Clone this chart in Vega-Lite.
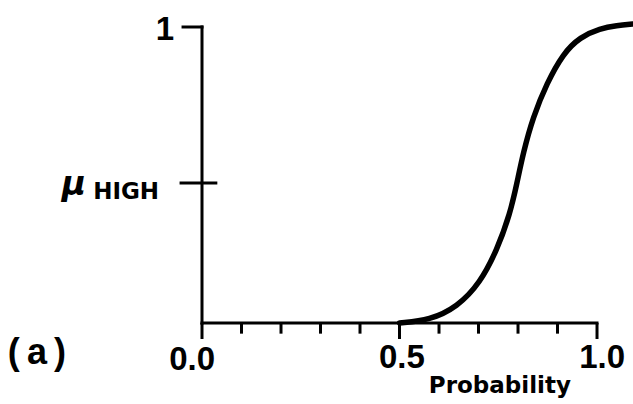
{
  "$schema": "https://vega.github.io/schema/vega-lite/v6.json",
  "width": 431,
  "height": 323,
  "autosize": {"type": "none"},
  "padding": {"left": 202, "top": 0, "right": 0, "bottom": 81},
  "background": "white",
  "config": {"view": {"stroke": null}},
  "datasets": {
    "curve": [
      {"p": 0.5, "mu": 0.0},
      {"p": 0.577, "mu": 0.01},
      {"p": 0.646, "mu": 0.054},
      {"p": 0.704, "mu": 0.135},
      {"p": 0.747, "mu": 0.247},
      {"p": 0.78, "mu": 0.37},
      {"p": 0.797, "mu": 0.47},
      {"p": 0.813, "mu": 0.574},
      {"p": 0.838, "mu": 0.696},
      {"p": 0.873, "mu": 0.81},
      {"p": 0.914, "mu": 0.91},
      {"p": 0.957, "mu": 0.966},
      {"p": 1.008, "mu": 0.995},
      {"p": 1.05, "mu": 1.005},
      {"p": 1.09, "mu": 1.01}
    ],
    "segments": [
      {"x1": 0, "x2": 1, "y1": 0, "y2": 0},
      {"x1": 0, "x2": 0, "y1": 0, "y2": 1},
      {"x1": -0.048, "x2": 0, "y1": 1, "y2": 1},
      {"x1": -0.053, "x2": 0.035, "y1": 0.473, "y2": 0.473}
    ],
    "xticks": [
      {"p": 0.0, "kind": "major"},
      {"p": 0.1, "kind": "minor"},
      {"p": 0.2, "kind": "minor"},
      {"p": 0.3, "kind": "minor"},
      {"p": 0.4, "kind": "minor"},
      {"p": 0.5, "kind": "major"},
      {"p": 0.6, "kind": "minor"},
      {"p": 0.7, "kind": "minor"},
      {"p": 0.8, "kind": "minor"},
      {"p": 0.9, "kind": "minor"},
      {"p": 1.0, "kind": "major"}
    ],
    "one": [{"id": 1}]
  },
  "layer": [
    {
      "data": {"name": "segments"},
      "mark": {"type": "rule", "color": "black", "strokeWidth": 3, "strokeCap": "square"},
      "encoding": {
        "x": {"field": "x1", "type": "quantitative", "axis": null, "scale": {"domain": [0, 1.0911], "nice": false, "zero": false}},
        "x2": {"field": "x2"},
        "y": {"field": "y1", "type": "quantitative", "axis": null, "scale": {"domain": [0, 1.0912], "nice": false, "zero": false}},
        "y2": {"field": "y2"}
      }
    },
    {
      "data": {"name": "xticks"},
      "transform": [{"filter": "datum.kind == 'minor'"}],
      "mark": {"type": "rule", "color": "black", "strokeWidth": 3},
      "encoding": {
        "x": {"field": "p", "type": "quantitative"},
        "y": {"datum": 0},
        "y2": {"datum": -0.036}
      }
    },
    {
      "data": {"name": "xticks"},
      "transform": [{"filter": "datum.kind == 'major'"}],
      "mark": {"type": "rule", "color": "black", "strokeWidth": 3},
      "encoding": {
        "x": {"field": "p", "type": "quantitative"},
        "y": {"datum": 0},
        "y2": {"datum": -0.054}
      }
    },
    {
      "data": {"name": "curve"},
      "mark": {"type": "line", "color": "black", "strokeWidth": 5.5, "interpolate": "basis", "strokeCap": "round"},
      "encoding": {
        "x": {"field": "p", "type": "quantitative"},
        "y": {"field": "mu", "type": "quantitative"}
      }
    },
    {
      "data": {"name": "one"},
      "mark": {"type": "text", "font": "Liberation Sans", "fontWeight": "bold", "fontSize": 33, "baseline": "alphabetic", "align": "center"},
      "encoding": {
        "x": {"datum": -0.025},
        "y": {"datum": -0.159},
        "text": {"value": "0.0"}
      }
    },
    {
      "data": {"name": "one"},
      "mark": {"type": "text", "font": "Liberation Sans", "fontWeight": "bold", "fontSize": 33, "baseline": "alphabetic", "align": "center"},
      "encoding": {
        "x": {"datum": 0.506},
        "y": {"datum": -0.152},
        "text": {"value": "0.5"}
      }
    },
    {
      "data": {"name": "one"},
      "mark": {"type": "text", "font": "Liberation Sans", "fontWeight": "bold", "fontSize": 33, "baseline": "alphabetic", "align": "center"},
      "encoding": {
        "x": {"datum": 1.013},
        "y": {"datum": -0.152},
        "text": {"value": "1.0"}
      }
    },
    {
      "data": {"name": "one"},
      "mark": {"type": "text", "font": "DejaVu Sans", "fontWeight": "bold", "fontSize": 23, "baseline": "alphabetic", "align": "center"},
      "encoding": {
        "x": {"datum": 0.754},
        "y": {"datum": -0.236},
        "text": {"value": "Probability"}
      }
    },
    {
      "data": {"name": "one"},
      "mark": {"type": "text", "font": "Liberation Sans", "fontWeight": "bold", "fontSize": 36, "baseline": "alphabetic", "align": "center"},
      "encoding": {
        "x": {"datum": -0.418},
        "y": {"datum": -0.14},
        "text": {"value": "(\u2009a\u2009)"}
      }
    },
    {
      "data": {"name": "one"},
      "mark": {"type": "text", "font": "Liberation Sans", "fontWeight": "bold", "fontSize": 33, "baseline": "alphabetic", "align": "center"},
      "encoding": {
        "x": {"datum": -0.094},
        "y": {"datum": 0.956},
        "text": {"value": "1"}
      }
    },
    {
      "data": {"name": "one"},
      "mark": {"type": "text", "font": "DejaVu Sans", "fontStyle": "italic", "fontWeight": "bold", "fontSize": 33, "baseline": "alphabetic", "align": "center"},
      "encoding": {
        "x": {"datum": -0.324},
        "y": {"datum": 0.432},
        "text": {"value": "μ"}
      }
    },
    {
      "data": {"name": "one"},
      "mark": {"type": "text", "font": "DejaVu Sans", "fontWeight": "bold", "fontSize": 23, "baseline": "alphabetic", "align": "center"},
      "encoding": {
        "x": {"datum": -0.192},
        "y": {"datum": 0.42},
        "text": {"value": "HIGH"}
      }
    }
  ]
}
